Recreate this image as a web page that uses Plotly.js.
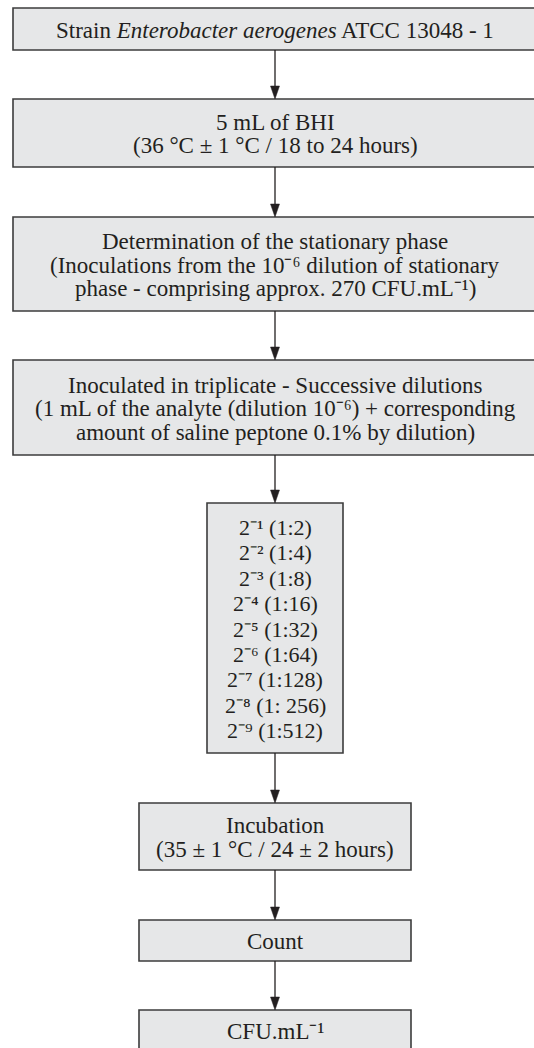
<!DOCTYPE html>
<html>
<head>
<meta charset="utf-8">
<script src="https://cdn.plot.ly/plotly-3.0.1.min.js"></script>
<style>html,body{margin:0;padding:0;background:#fff;}#chart{width:534px;height:1048px;}</style>
</head>
<body>
<div id="chart"></div>
<script>
// ---- Content (text of each flowchart step) ----
const step1 = ["Strain <i>Enterobacter aerogenes</i> ATCC 13048 - 1"];
const step2 = ["5 mL of BHI", "(36 °C ± 1 °C / 18 to 24 hours)"];
const step3 = ["Determination of the stationary phase",
  "(Inoculations from the 10⁻⁶ dilution of stationary",
  "phase - comprising approx. 270 CFU.mL⁻¹)"];
const step4 = ["Inoculated in triplicate - Successive dilutions",
  "(1 mL of the analyte (dilution 10⁻⁶) + corresponding",
  "amount of saline peptone 0.1% by dilution)"];
const dilutionPowers = ["2⁻¹", "2⁻²", "2⁻³", "2⁻⁴", "2⁻⁵", "2⁻⁶", "2⁻⁷", "2⁻⁸", "2⁻⁹"];
const dilutionRatios = ["1:2", "1:4", "1:8", "1:16", "1:32", "1:64", "1:128", "1: 256", "1:512"];
const step6 = ["Incubation", "(35 ± 1 °C / 24 ± 2 hours)"];
const step7 = ["Count"];
const step8 = ["CFU.mL⁻¹"];

const step5 = dilutionPowers.map((p, i) => p + " (" + dilutionRatios[i] + ")");
const steps = [step1, step2, step3, step4, step5, step6, step7, step8];

// ---- Layout geometry (pixels) ----
const cx = 275;
const boxTop = [8, 99, 217, 360, 503, 803, 920, 1010];
const boxBottom = [50, 167, 311, 455, 753, 870, 961, 1051];
const boxHalfW = [262, 262, 262, 262, 68, 136, 136, 136];
const lineGap = [23.5, 23.5, 23.5, 23.5, 25.4, 23.5, 23.5, 23.5];
const fontSizes = [23, 23, 23, 23, 22, 23, 23, 23];

const FONT = "Liberation Serif, Times New Roman, serif";
const TXT = "#231f20";

const shapes = [];
const annotations = [];

steps.forEach((lines, i) => {
  shapes.push({
    type: "rect", xref: "x", yref: "y",
    x0: cx - boxHalfW[i], x1: cx + boxHalfW[i], y0: boxTop[i], y1: boxBottom[i],
    fillcolor: "#e6e7e8", line: {color: "#3c3c3c", width: 1.6}, layer: "below"
  });
  const mid = (boxTop[i] + boxBottom[i]) / 2 + 1;
  const n = lines.length;
  lines.forEach((t, j) => {
    annotations.push({
      xref: "x", yref: "y", x: cx, y: mid + (j - (n - 1) / 2) * lineGap[i],
      text: t, showarrow: false, xanchor: "center", yanchor: "middle",
      font: {family: FONT, size: fontSizes[i], color: TXT}
    });
  });
  if (i < steps.length - 1) {
    const yS = boxBottom[i], yE = boxTop[i + 1];
    shapes.push({type: "line", xref: "x", yref: "y", x0: cx, x1: cx, y0: yS, y1: yE - 6,
      line: {color: "#231f20", width: 1.3}});
    shapes.push({type: "path", xref: "x", yref: "y",
      path: `M ${cx - 4.5} ${yE - 13} L ${cx + 4.5} ${yE - 13} L ${cx} ${yE} Z`,
      fillcolor: "#231f20", line: {color: "#231f20", width: 0.5}});
  }
});

const data = [{
  type: "scatter", mode: "markers", x: [cx], y: [boxTop[0]],
  marker: {opacity: 0}, hoverinfo: "skip", showlegend: false
}];

const layout = {
  width: 534, height: 1048,
  margin: {l: 0, r: 0, t: 0, b: 0, pad: 0},
  paper_bgcolor: "#ffffff", plot_bgcolor: "#ffffff",
  xaxis: {range: [0, 534], visible: false, fixedrange: true},
  yaxis: {range: [1048, 0], visible: false, fixedrange: true},
  shapes: shapes, annotations: annotations, showlegend: false
};

Plotly.newPlot("chart", data, layout, {staticPlot: true, displayModeBar: false});
</script>
</body>
</html>
